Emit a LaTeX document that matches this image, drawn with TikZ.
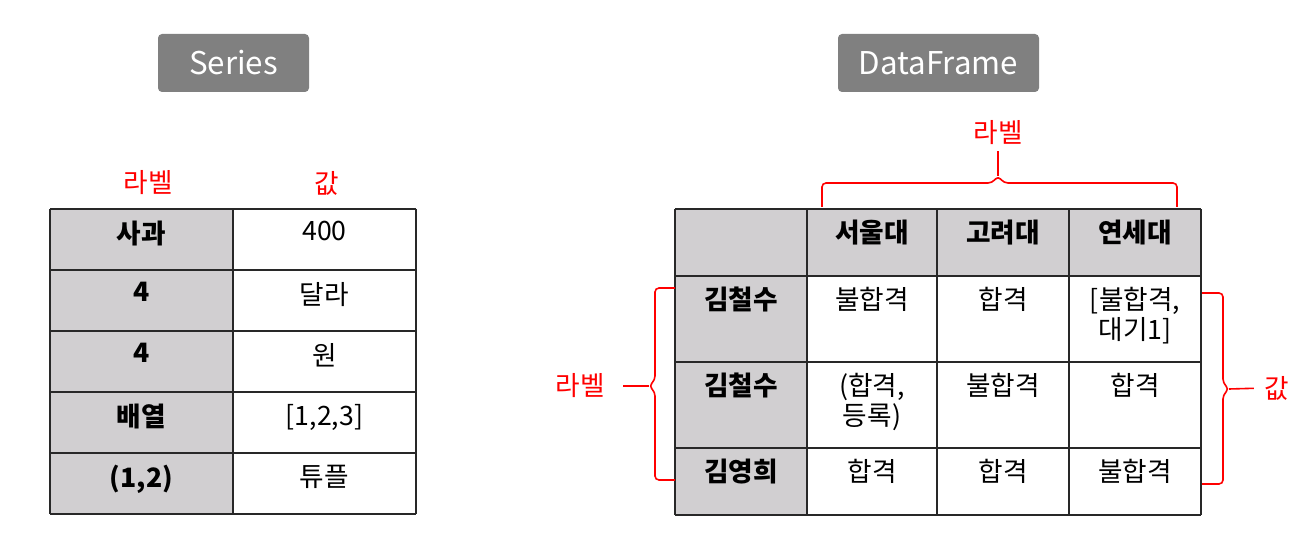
\documentclass[tikz,border=0pt]{standalone}
\usepackage{fontspec}
\setmainfont{Noto Sans CJK KR}
\definecolor{cellgray}{RGB}{209,207,209}
\definecolor{titlegray}{RGB}{128,128,128}
\definecolor{gridline}{RGB}{40,40,40}
\begin{document}
\begin{tikzpicture}[x=0.75pt, y=-0.75pt,
    title/.style={fill=titlegray, rounded corners=3pt, text=white, font=\fontsize{23.5}{26}\selectfont, minimum height=43.5pt, inner sep=0pt},
    grid/.style={gridline, line width=1.5pt},
    cell/.style={anchor=north, inner sep=0pt, align=center, font=\fontsize{20}{22.5}\selectfont},
    head/.style={cell, font=\fontsize{20}{22.5}\selectfont\bfseries},
    lab/.style={text=red, inner sep=0pt, font=\fontsize{20}{24}\selectfont},
    brc/.style={red, line width=1.2pt, rounded corners=3pt}]
  \useasboundingbox (0,0) rectangle (1304,552);

  % titles
  \node[title, minimum width=113.25pt] (Ser) at (233.5,63) {Series};
  \node[title, minimum width=150.75pt] (DF) at (938.5,63) {DataFrame};

  % Series table
  \fill[cellgray] (50,209) rectangle (233,514);
  \foreach \y in {209,270,331,392,453,514}
    \draw[grid] (50,\y) -- (416,\y);
  \foreach \x in {50,233,416}
    \draw[grid] (\x,209) -- (\x,514);
  \foreach \k/\v [count=\i from 0] in {사과/400, 4/달라, 4/원, 배열/{[1,2,3]}, {(1,2)}/튜플} {
    \node[head] (sk\i) at (141.5,{209+61*\i+12}) {\k};
    \node[cell] (sv\i) at (324.5,{209+61*\i+12}) {\v};
  }
  \node[lab] (sLab) at (148,183) {라벨};
  \node[lab] (sVal) at (327,183) {값};

  % DataFrame table
  \fill[cellgray] (675,209) rectangle (1201,276);
  \fill[cellgray] (675,276) rectangle (807,515);
  \foreach \y in {209,276,362,448,515}
    \draw[grid] (675,\y) -- (1201,\y);
  \foreach \x in {675,807,937,1069,1201}
    \draw[grid] (\x,209) -- (\x,515);

  \node[head] (c1) at (872,220) {서울대};
  \node[head] (c2) at (1003,220) {고려대};
  \node[head] (c3) at (1135,220) {연세대};

  \node[head] (r1) at (741,287) {김철수};
  \node[head] (r2) at (741,373) {김철수};
  \node[head] (r3) at (741,459) {김영희};

  \node[cell] (v11) at (872,287) {불합격};
  \node[cell] (v12) at (1003,287) {합격};
  \node[cell] (v13) at (1135,287) {[불합격,\\대기1]};
  \node[cell] (v21) at (872,373) {(합격,\\등록)};
  \node[cell] (v22) at (1003,373) {불합격};
  \node[cell] (v23) at (1135,373) {합격};
  \node[cell] (v31) at (872,459) {합격};
  \node[cell] (v32) at (1003,459) {합격};
  \node[cell] (v33) at (1135,459) {불합격};

  % braces
  \coordinate (tipT) at (998,176);
  \coordinate (tipL) at (649,386);
  \coordinate (tipR) at (1229,389);
  \draw[brc] (822,207) -- (822,183) -- (992,183) -- (tipT) -- (1004,183) -- (1177,183) -- (1177,207);
  \draw[brc] (675,288) -- (655,288) -- (655,380) -- (tipL) -- (655,392) -- (655,480) -- (675,480);
  \draw[brc] (1202,293) -- (1223,293) -- (1223,383) -- (tipR) -- (1223,395) -- (1223,484) -- (1202,484);

  \node[lab] (tLab) at (998,133) {라벨};
  \node[lab] (lLab) at (580,386) {라벨};
  \node[lab] (rLab) at (1277,388) {값};

  \draw[red, line width=1.2pt, shorten >=4pt] (tipT) -- (tLab);
  \draw[red, line width=1.2pt, shorten >=14pt] (tipL) -- (lLab.east);
  \draw[red, line width=1.2pt, shorten >=8pt] (tipR) -- (rLab.west);
\end{tikzpicture}
\end{document}
